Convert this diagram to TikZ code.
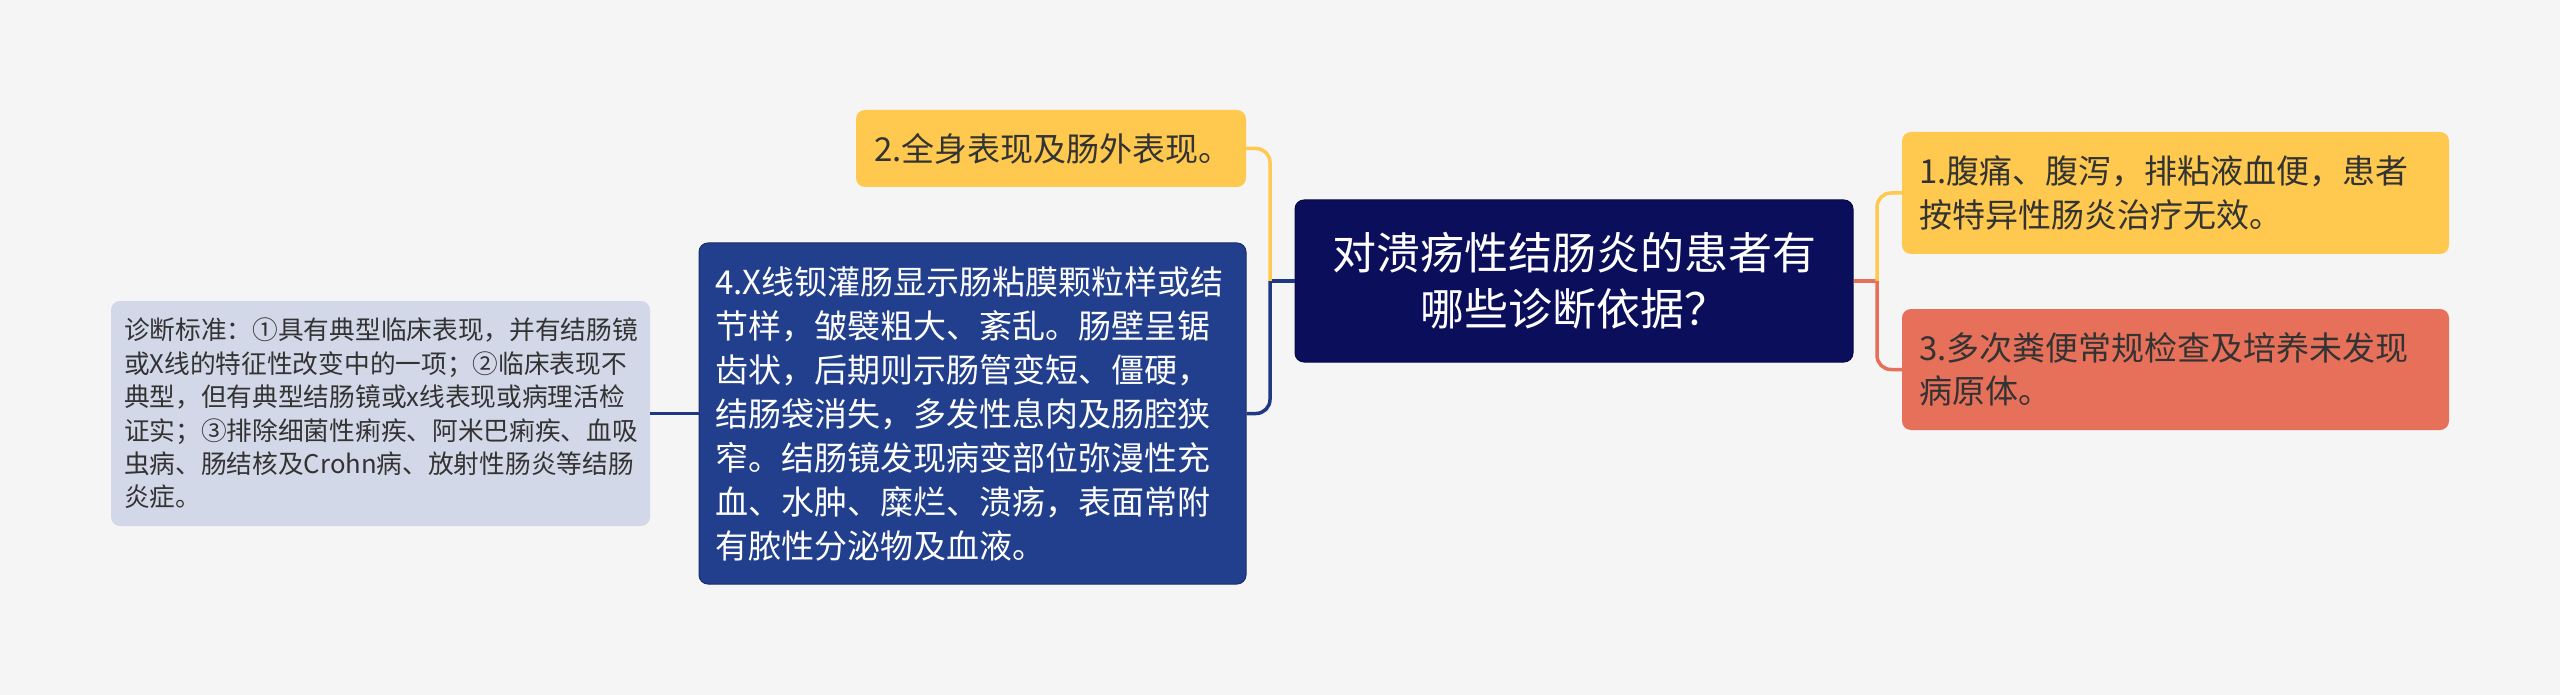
\documentclass[tikz,border=0pt]{standalone}
\usepackage{fontspec}
\newfontfamily\cjk{Noto Sans CJK SC}
\definecolor{bg}{HTML}{F5F5F5}
\definecolor{rootfill}{HTML}{0A0E5B}
\definecolor{navyfill}{HTML}{213F8C}
\definecolor{navyline}{HTML}{1E3883}
\definecolor{yel}{HTML}{FEC94E}
\definecolor{sal}{HTML}{E6705A}
\definecolor{lav}{HTML}{D3D8E8}
\definecolor{txt}{HTML}{333333}
\tikzset{
  box/.style={rounded corners=9pt, inner ysep=0pt, font=\cjk},
  conn/.style={line width=3.5pt, rounded corners=14pt},
}
\begin{document}
\begin{tikzpicture}[x=1pt,y=-1pt]
\useasboundingbox (0,0) rectangle (2560,695);
\fill[bg] (0,0) rectangle (2560,695);

% root
\node[box, fill=rootfill, draw=rootfill!80!black, line width=1pt, text=white,
      minimum width=558pt, minimum height=162pt, inner xsep=16pt, text width=526pt,
      align=center, font=\cjk\fontsize{44}{56}\selectfont] (root) at (1574,281)
  {对溃疡性结肠炎的患者有\\哪些诊断依据？};

% right side
\node[box, fill=yel, text=txt, minimum width=547pt, minimum height=122pt,
      inner xsep=17pt, text width=513pt, align=left,
      font=\cjk\fontsize{33}{43.5}\selectfont] (n1) at (2175.5,193)
  {1.腹痛、腹泻，排粘液血便，患者\\按特异性肠炎治疗无效。};
\node[box, fill=sal, text=txt, minimum width=547pt, minimum height=121pt,
      inner xsep=17pt, text width=513pt, align=left,
      font=\cjk\fontsize{33}{43.5}\selectfont] (n3) at (2175.5,369.5)
  {3.多次粪便常规检查及培养未发现\\病原体。};

% left side
\node[box, fill=yel, text=txt, minimum width=390pt, minimum height=77pt,
      inner xsep=18pt, text width=354pt, align=left,
      font=\cjk\fontsize{33}{43.5}\selectfont] (n2) at (1051,148.5)
  {2.全身表现及肠外表现。};
\node[box, fill=navyfill, draw=navyline!80!black, line width=1pt, text=white,
      minimum width=547pt, minimum height=341pt,
      inner xsep=16pt, text width=515pt, align=left,
      font=\cjk\fontsize{33}{44}\selectfont] (n4) at (972.5,413.5)
  {4.X线钡灌肠显示肠粘膜颗粒样或结\\节样，皱襞粗大、紊乱。肠壁呈锯\\齿状，后期则示肠管变短、僵硬，\\结肠袋消失，多发性息肉及肠腔狭\\窄。结肠镜发现病变部位弥漫性充\\血、水肿、糜烂、溃疡，表面常附\\有脓性分泌物及血液。};
\node[box, fill=lav, text=txt, minimum width=539pt, minimum height=225pt,
      inner xsep=13pt, text width=513pt, align=left,
      font=\cjk\fontsize{25.7}{33.4}\selectfont] (n5) at (380.5,413.5)
  {诊断标准：①具有典型临床表现，并有结肠镜\\或X线的特征性改变中的一项；②临床表现不\\典型，但有典型结肠镜或x线表现或病理活检\\证实；③排除细菌性痢疾、阿米巴痢疾、血吸\\虫病、肠结核及Crohn病、放射性肠炎等结肠\\炎症。};

% junctions
\coordinate (jr) at (1877,281);
\coordinate (jl) at (1270,281);

% connectors
\draw[conn, sal] (root.east) -- (jr);
\draw[conn, yel] (jr) |- (n1.west);
\draw[conn, sal] (jr) |- (n3.west);
\draw[conn, navyline] (root.west) -- (jl);
\draw[conn, yel] (jl) |- (n2.east);
\draw[conn, navyline] (jl) |- (n4.east);
\draw[conn, navyline] (n4.west) -- (n5.east);
\end{tikzpicture}
\end{document}
